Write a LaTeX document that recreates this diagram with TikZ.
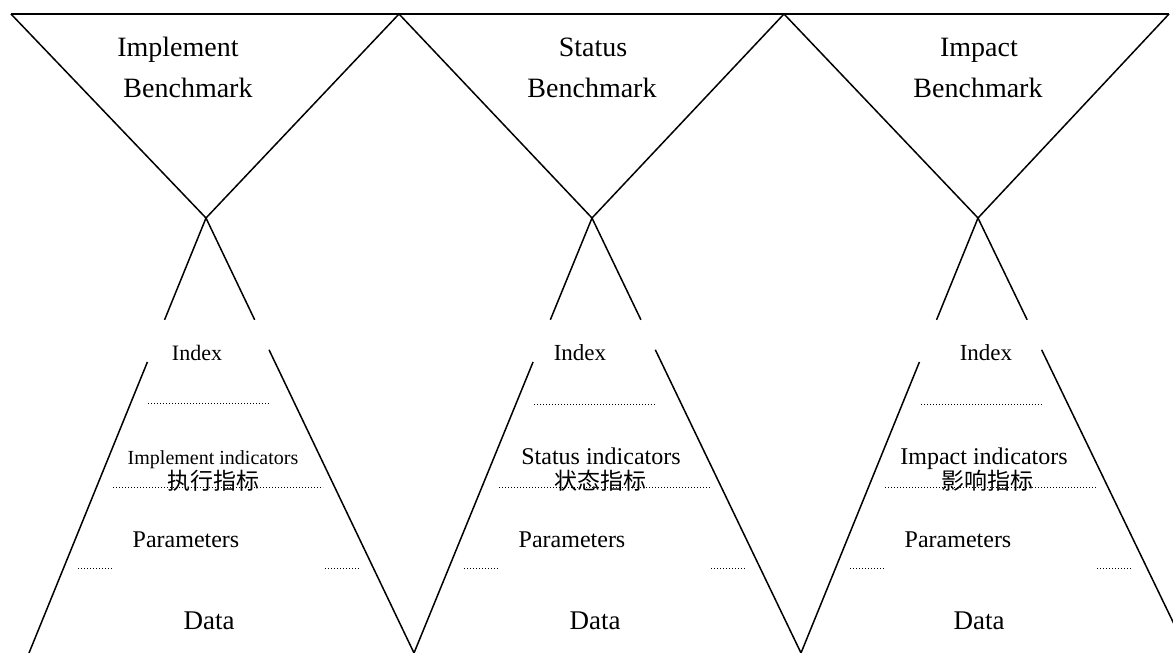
\documentclass[tikz,border=0pt]{standalone}
\usepackage{fontspec}
\setmainfont{Liberation Serif}
\newfontfamily\cjk{Noto Sans CJK SC}
\usepackage{tikz}
\usetikzlibrary{calc}

\newcommand{\fsz}[1]{\fontsize{#1}{#1}\selectfont}

\begin{document}
\begin{tikzpicture}
  [x=1pt,y=-1pt,line width=1.5pt,
   every node/.style={anchor=base,inner sep=0pt},
   head/.style={font=\fsz{28}},
   lbl/.style={font=\fsz{23}},
   cn/.style={font=\cjk\fsz{23}},
   dots/.style={line width=1pt,dash pattern=on 0.9pt off 2.1pt}]
  \useasboundingbox (0,0) rectangle (1173,653);
  \clip (0,0) rectangle (1173,653);

  % benchmark triangles
  \coordinate (t0) at (11,14);
  \coordinate (t1) at (399,14);
  \coordinate (t2) at (784,14);
  \coordinate (t3) at (1169,14);
  \coordinate (a1) at (206,218);
  \coordinate (a2) at (592,218);
  \coordinate (a3) at (978,218);
  \draw (t0) -- (t3);
  \draw (t0) -- (a1) -- (t1) -- (a2) -- (t2) -- (a3) -- (t3);

  % pyramids
  \coordinate (b0) at (29,653);
  \coordinate (b1) at (414,653);
  \coordinate (b2) at (801,653);
  \coordinate (b3) at (1188,653);
  \draw (a1) -- ($(a1)!0.234!(b0)$);  \draw ($(a1)!0.331!(b0)$) -- (b0);
  \draw (a1) -- ($(a1)!0.234!(b1)$);  \draw ($(a1)!0.303!(b1)$) -- (b1);
  \draw (a2) -- ($(a2)!0.234!(b1)$);  \draw ($(a2)!0.331!(b1)$) -- (b1);
  \draw (a2) -- ($(a2)!0.234!(b2)$);  \draw ($(a2)!0.303!(b2)$) -- (b2);
  \draw (a3) -- ($(a3)!0.234!(b2)$);  \draw ($(a3)!0.331!(b2)$) -- (b2);
  \draw (a3) -- ($(a3)!0.234!(b3)$);  \draw ($(a3)!0.303!(b3)$) -- (b3);

  % implement
  \node[head] (impl) at (178,56) {Implement};
  \node[head] (implb) at (188,97) {Benchmark};
  \node[lbl,font=\fsz{22}] (impli) at (197,360) {Index};
  \node[lbl,font=\fsz{20}] (impla) at (213,464) {Implement indicators};
  \node[cn] (implc) at (213,489) {执行指标};
  \node[lbl,font=\fsz{24}] (implp) at (186,547) {Parameters};
  \node[lbl,font=\fsz{27}] (impld) at (209,629) {Data};
  \draw[dots] (148,403) -- (269,403);
  \draw[dots] (113,487) -- (323,487);
  \draw[dots] (78,568) -- (113,568);
  \draw[dots] (325,568) -- (359,568);

  % status
  \node[head] (stat) at (593,56) {Status};
  \node[head] (statb) at (592,97) {Benchmark};
  \node[lbl] (stati) at (580,360) {Index};
  \node[lbl,font=\fsz{24}] (stata) at (601,464) {Status indicators};
  \node[cn] (statc) at (600,489) {状态指标};
  \node[lbl,font=\fsz{24}] (statp) at (572,547) {Parameters};
  \node[lbl,font=\fsz{27}] (statd) at (595,629) {Data};
  \draw[dots] (534,404) -- (656,404);
  \draw[dots] (499,487) -- (711,487);
  \draw[dots] (464,568) -- (499,568);
  \draw[dots] (711,568) -- (746,568);

  % impact
  \node[head] (impa) at (979,56) {Impact};
  \node[head] (impab) at (978,97) {Benchmark};
  \node[lbl] (impai) at (986,360) {Index};
  \node[lbl,font=\fsz{24}] (impaa) at (984,464) {Impact indicators};
  \node[cn] (impac) at (987,489) {影响指标};
  \node[lbl,font=\fsz{24}] (impap) at (958,547) {Parameters};
  \node[lbl,font=\fsz{27}] (impad) at (979,629) {Data};
  \draw[dots] (921,404) -- (1042,404);
  \draw[dots] (885,487) -- (1097,487);
  \draw[dots] (850,568) -- (885,568);
  \draw[dots] (1097,568) -- (1132,568);
\end{tikzpicture}
\end{document}
